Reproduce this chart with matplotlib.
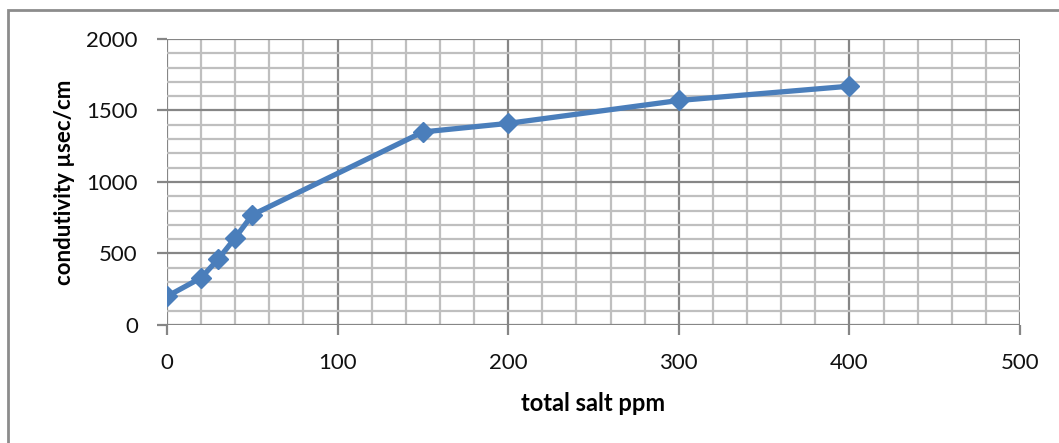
import matplotlib.pyplot as plt
import numpy as np
from matplotlib.patches import Rectangle

# data
salt_ppm = [0, 20, 30, 40, 50, 150, 200, 300, 400]
conductivity = [200, 330, 460, 610, 770, 1350, 1410, 1570, 1670]

line_col = '#4A7EBB'
major_col = '#868686'
minor_col = '#BFBFBF'

plt.rcParams['font.family'] = ['Lato', 'DejaVu Sans']

fig = plt.figure(figsize=(10.59, 4.43), dpi=100)
ax = fig.add_axes([167 / 1059, 1 - 325 / 443, (1020 - 167) / 1059, (325 - 39) / 443])

ax.plot(salt_ppm, conductivity, color=line_col, lw=3.8, marker='D', ms=10.5,
        solid_joinstyle='round', solid_capstyle='round', zorder=3)

ax.set_xlim(0, 500)
ax.set_ylim(0, 2000)
ax.set_xticks(np.arange(0, 501, 100))
ax.set_yticks(np.arange(0, 2001, 500))
ax.set_xticks(np.arange(0, 501, 20), minor=True)
ax.set_yticks(np.arange(0, 2001, 100), minor=True)

ax.grid(which='minor', color=minor_col, lw=1.6, zorder=0)
ax.grid(which='major', color=major_col, lw=1.6, zorder=1)
ax.set_axisbelow(True)
for s in ax.spines.values():
    s.set_visible(False)

ax.tick_params(which='major', length=7, width=1.6, color=major_col, labelsize=16,
               labelcolor='#111111')
ax.tick_params(which='minor', length=0)
ax.tick_params(axis='x', pad=13)
ax.tick_params(axis='y', pad=14)

ax.set_xlabel('total salt ppm', fontsize=17, fontweight='bold', labelpad=14)
ax.set_ylabel('condutivity µsec/cm', fontsize=16, fontweight='bold', labelpad=8)

# chart frame
fig.patches.append(Rectangle((8 / 1059, -0.1), 1.2, 1 - 10 / 443 + 0.1, transform=fig.transFigure,
                             fill=False, edgecolor='#8C8C8C', lw=2))

fig.savefig('out.png', dpi=100)
